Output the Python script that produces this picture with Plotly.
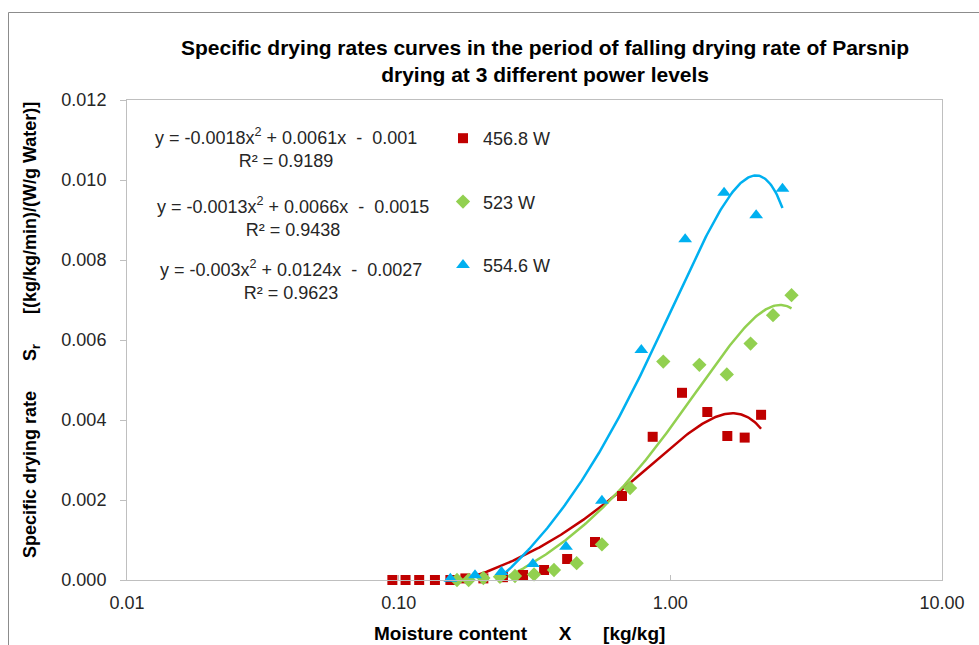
import numpy as np
import plotly.graph_objects as go

# ---------------- data ----------------
series_names = ["456.8 W", "523 W", "554.6 W"]

x_4568 = [0.0948, 0.106, 0.119, 0.136, 0.155, 0.176, 0.205, 0.242, 0.287, 0.343,
          0.417, 0.528, 0.664, 0.861, 1.104, 1.368, 1.621, 1.878, 2.158]
y_4568 = [0.0, 0.0, 0.0, 0.0, 0.0, 0.00004, 0.00004, 0.00007, 0.000125, 0.00025,
          0.000525, 0.00095, 0.0021, 0.00358, 0.00468, 0.0042, 0.0036, 0.00356, 0.00413]

x_523 = [0.164, 0.181, 0.205, 0.236, 0.268, 0.315, 0.373, 0.452, 0.560, 0.711,
         0.942, 1.279, 1.614, 1.974, 2.388, 2.793]
y_523 = [0.0, 0.0, 0.00005, 0.00008, 0.0001, 0.00014, 0.00025, 0.00042, 0.00089, 0.0023,
         0.00546, 0.00538, 0.00514, 0.00591, 0.00662, 0.00712]

x_5546 = [0.155, 0.191, 0.239, 0.312, 0.413, 0.560, 0.782, 1.134, 1.577, 2.070, 2.587]
y_5546 = [0.00003, 0.00012, 0.0002, 0.0004, 0.00083, 0.00198, 0.00575, 0.00852,
          0.00968, 0.00912, 0.00978]

# trendline coefficients shown on the chart (a x^2 + b x + c)
coef_4568 = [-0.0018, 0.0061, -0.001]
coef_523 = [-0.0013, 0.0066, -0.0015]
coef_5546 = [-0.003, 0.0124, -0.0027]
r2_values = ["0.9189", "0.9438", "0.9623"]

x_tick_vals = [0.01, 0.1, 1, 10]
x_tick_text = ["0.01", "0.10", "1.00", "10.00"]
y_tick_vals = [0.0, 0.002, 0.004, 0.006, 0.008, 0.010, 0.012]

colors = ["#C00000", "#92D050", "#00B0F0"]
symbols = ["square", "diamond", "triangle-up"]
sizes = [10, 11, 12]

# ---------------- layout helpers ----------------
W, H = 979, 645
L, R, T, B = 127, 942, 100, 580


def px(xp):
    return (xp - L) / (R - L)


def py(yp):
    return (B - yp) / (B - T)


FONT = "Liberation Sans, Arial, sans-serif"
NARROW = "Liberation Sans Narrow, Arial Narrow, Liberation Sans, Arial, sans-serif"

fig = go.Figure()

xs = [x_4568, x_523, x_5546]
ys = [y_4568, y_523, y_5546]
coefs = [coef_4568, coef_523, coef_5546]

# trendlines
for i in range(3):
    xmin, xmax = min(xs[i]), max(xs[i])
    xx = np.exp(np.linspace(np.log(xmin), np.log(xmax), 300))
    yy = np.polyval(coefs[i], xx)
    fig.add_trace(go.Scatter(
        x=xx, y=yy, mode="lines", line=dict(color=colors[i], width=2.5),
        showlegend=False, hoverinfo="skip", cliponaxis=True))

# markers
for i in range(3):
    fig.add_trace(go.Scatter(
        x=xs[i], y=ys[i], mode="markers", name=series_names[i],
        legendgroup=f"g{i}",
        marker=dict(symbol=symbols[i], size=sizes[i], color=colors[i], line=dict(width=0)),
        cliponaxis=False))

# equation annotations
eq_texts = [
    "y = -0.0018x<sup>2</sup> + 0.0061x  -  0.001<br>R² = " + r2_values[0],
    "y = -0.0013x<sup>2</sup> + 0.0066x  -  0.0015<br>R² = " + r2_values[1],
    "y = -0.003x<sup>2</sup> + 0.0124x  -  0.0027<br>R² = " + r2_values[2],
]
eq_pos = [(286, 148), (293, 217), (291, 280)]
for t, (xp, yp) in zip(eq_texts, eq_pos):
    fig.add_annotation(x=px(xp), y=py(yp), xref="paper", yref="paper", text=t,
                       showarrow=False, align="center", xanchor="center", yanchor="middle",
                       font=dict(family=FONT, size=18, color="#262626"))

# title
fig.add_annotation(
    x=px(545), y=py(61), xref="paper", yref="paper",
    text="<b>Specific drying rates curves in the period of falling drying rate of Parsnip<br>drying at 3 different power levels</b>",
    showarrow=False, align="center", xanchor="center", yanchor="middle",
    font=dict(family=NARROW, size=21, color="#000000"))

# x axis title
sp = "\u00a0" * 6
fig.add_annotation(
    x=px(519), y=py(633), xref="paper", yref="paper",
    text="<b>Moisture content" + sp + "X" + sp + "[kg/kg]</b>",
    showarrow=False, xanchor="center", yanchor="middle",
    font=dict(family=NARROW, size=19, color="#000000"))

# y axis title
fig.add_annotation(
    x=px(31), y=py(330), xref="paper", yref="paper",
    text="<b>Specific drying rate" + sp + "S<sub>r</sub>" + sp + "[(kg/kg/min)/(W/g Water)]</b>",
    showarrow=False, xanchor="center", yanchor="middle", textangle=-90,
    font=dict(family=NARROW, size=18, color="#000000"))

# outer chart border
fig.add_shape(type="rect", xref="paper", yref="paper",
              x0=px(8.5), x1=px(1100), y0=py(800), y1=py(12.5),
              line=dict(color="#8C8C8C", width=1), fillcolor="rgba(0,0,0,0)", layer="below")

fig.update_layout(
    width=W, height=H,
    margin=dict(l=L, r=W - R, t=T, b=H - B, pad=0),
    paper_bgcolor="white", plot_bgcolor="white",
    font=dict(family=FONT, size=17, color="#262626"),
    legend=dict(x=px(443), y=py(120), xanchor="left", yanchor="top",
                font=dict(family=FONT, size=18, color="#262626"),
                tracegroupgap=37, bgcolor="rgba(0,0,0,0)", itemwidth=30),
    xaxis=dict(type="log", range=[-2, 1], tickvals=x_tick_vals, ticktext=x_tick_text,
               showgrid=False, zeroline=False, showline=True, linecolor="#BFBFBF",
               linewidth=1, mirror=True, ticks="inside", ticklen=5, tickcolor="#BFBFBF",
               tickfont=dict(family=FONT, size=18, color="#262626"), ticklabelstandoff=6),
    yaxis=dict(range=[0, 0.012], tickvals=y_tick_vals, tickformat=".3f",
               showgrid=False, zeroline=False, showline=True, linecolor="#BFBFBF",
               linewidth=1, mirror=True, ticks="outside", ticklen=6, tickcolor="#BFBFBF",
               tickfont=dict(family=FONT, size=18, color="#262626"), ticklabelstandoff=10),
)

fig.write_html("out.html")
